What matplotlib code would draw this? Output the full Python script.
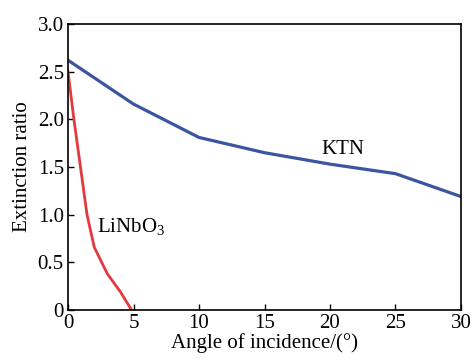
import matplotlib
matplotlib.use("Agg")
import matplotlib.pyplot as plt

ktn_x = [0, 5, 10, 15, 20, 25, 30]
ktn_y = [2.62, 2.16, 1.81, 1.65, 1.53, 1.43, 1.19]
lin_x = [0, 0.45, 0.95, 1.45, 2, 3, 4, 4.85]
lin_y = [2.50, 2.00, 1.50, 1.00, 0.66, 0.38, 0.19, 0.0]
xticks = [0, 5, 10, 15, 20, 25, 30]
yticks = [0, 0.5, 1.0, 1.5, 2.0, 2.5, 3.0]
ytick_labels = ["0", "0.5", "1.0", "1.5", "2.0", "2.5", "3.0"]

plt.rcParams['font.family'] = ['Liberation Serif', 'DejaVu Serif']
plt.rcParams['mathtext.fontset'] = 'custom'
plt.rcParams['mathtext.rm'] = 'Liberation Serif'

fig = plt.figure(figsize=(4.73, 3.61), dpi=100)
ax = fig.add_axes([0.1438, 0.1413, 0.9746 - 0.1438, 0.9335 - 0.1413])
ax.plot(ktn_x, ktn_y, color='#3b55a0', lw=2.3, solid_joinstyle='round')
ax.plot(lin_x, lin_y, color='#e23a3f', lw=2.0, solid_joinstyle='round')
ax.set_xlim(0, 30)
ax.set_ylim(0, 3.0)
ax.set_xticks(xticks)
ax.set_yticks(yticks)
ax.set_yticklabels(ytick_labels)
ax.tick_params(direction='in', length=4, width=1, labelsize=15, pad=3)
for s in ax.spines.values():
    s.set_linewidth(1.2)
ax.set_xlabel('Angle of incidence/(°)', fontsize=15, labelpad=0)
ax.set_ylabel('Extinction ratio', fontsize=15, labelpad=4)
ax.text(21.0, 1.68, 'KTN', fontsize=15, ha='center', va='center')
ax.text(2.25, 0.87, r'LiNbO$_3$', fontsize=15, ha='left', va='center')
fig.savefig('out.png', dpi=100)
